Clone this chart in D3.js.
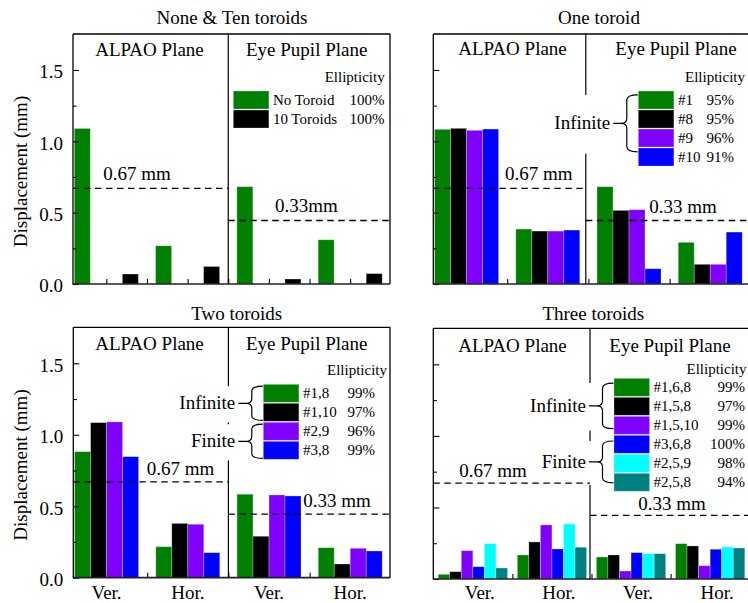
<!DOCTYPE html>
<html>
<head>
<meta charset="utf-8">
<script src="https://cdn.jsdelivr.net/npm/d3@7"></script>
<style>
  html, body { margin: 0; padding: 0; background: #fff; }
  svg { display: block; }
  svg text { font-family: "Liberation Serif", "Times New Roman", serif; fill: #000; }
</style>
</head>
<body>
<svg id="chart" width="748" height="603"></svg>
<script>
// ---- Data ----------------------------------------------------------------
// Groups along every x axis: ALPAO Ver., ALPAO Hor., Eye Ver., Eye Hor.
const groupLabels = ["Ver.", "Hor.", "Ver.", "Hor."];
const planeNames = ["ALPAO Plane", "Eye Pupil Plane"];
const yMajorTicks = [0, 0.5, 1.0, 1.5];
const yMinorTicks = [0.25, 0.75, 1.25];
const yMax = 1.752;
const yTitle = "Displacement (mm)";
const legendHeader = "Ellipticity";

// Tolerance lines
const alpaoLimit = 0.67;
const alpaoLimitText = "0.67 mm";
const eyeLimitLevel = 0.445;
const eyeLimitText = "0.33 mm";

// None & Ten toroids
const noneTenNames = ["No Toroid", "10 Toroids"];
const noneTenEllipticity = ["100%", "100%"];
const noToroid = [1.09, 0.268, 0.682, 0.31];
const tenToroids = [0.07, 0.123, 0.035, 0.073];

// One toroid
const oneNames = ["#1", "#8", "#9", "#10"];
const oneEllipticity = ["95%", "95%", "96%", "91%"];
const one1 = [1.084, 0.385, 0.682, 0.292];
const one8 = [1.091, 0.371, 0.516, 0.138];
const one9 = [1.077, 0.371, 0.521, 0.138];
const one10 = [1.086, 0.378, 0.107, 0.364];

// Two toroids
const twoNames = ["#1,8", "#1,10", "#2,9", "#3,8"];
const twoEllipticity = ["99%", "97%", "96%", "99%"];
const two18 = [0.882, 0.217, 0.584, 0.21];
const two110 = [1.085, 0.38, 0.29, 0.096];
const two29 = [1.09, 0.374, 0.579, 0.206];
const two38 = [0.847, 0.175, 0.572, 0.187];

// Three toroids
const threeNames = ["#1,6,8", "#1,5,8", "#1,5,10", "#3,6,8", "#2,5,9", "#2,5,8"];
const threeEllipticity = ["99%", "97%", "99%", "100%", "98%", "94%"];
const three168 = [0.033, 0.168, 0.154, 0.247];
const three158 = [0.051, 0.259, 0.168, 0.231];
const three1510 = [0.198, 0.378, 0.056, 0.093];
const three368 = [0.086, 0.21, 0.184, 0.208];
const three259 = [0.247, 0.385, 0.177, 0.224];
const three258 = [0.077, 0.222, 0.177, 0.217];

// ---- Styles --------------------------------------------------------------
const GREEN = "#008000", BLACK = "#000000", VIOLET = "#8000ff",
      BLUE = "#0000ff", CYAN = "#00ffff", TEAL = "#008080";
const SERIF = '"Liberation Serif", "Times New Roman", serif';
const AXIS_FONT = 19, LEGEND_FONT = 15;

// ---- Panels --------------------------------------------------------------
const panels = [
  {
    title: "None & Ten toroids", titleX: 232, titleY: 24,
    left: 73, right: 390, top: 34, bottom: 284,
    xDomain: [0.59, 4.49], slots: 4, slotW: 0.197, divider: 2.5,
    showYLabels: true, showXLabels: false, rightBorder: true,
    series: [
      { name: noneTenNames[0], ell: noneTenEllipticity[0], values: noToroid, color: GREEN, slot: 0 },
      { name: noneTenNames[1], ell: noneTenEllipticity[1], values: tenToroids, color: BLACK, slot: 3 }
    ],
    planeX: [149.5, 306.7], planeY: 55.5,
    limitLabels: [{ x: 103.3, y: 180, text: alpaoLimitText }, { x: 275, y: 212.3, text: "0.33mm" }],
    legend: { ellX: 384.7, ellY: 81.7, swX: 233.3, rowTop: 91, pctX: 384.5, groups: [] }
  },
  {
    title: "One toroid", titleX: 599, titleY: 24,
    left: 433.3, right: 750, top: 34, bottom: 284,
    xDomain: [0.59, 4.49], slots: 4, slotW: 0.197, divider: 2.468,
    showYLabels: false, showXLabels: false, rightBorder: false,
    series: [
      { name: oneNames[0], ell: oneEllipticity[0], values: one1, color: GREEN, slot: 0 },
      { name: oneNames[1], ell: oneEllipticity[1], values: one8, color: BLACK, slot: 1 },
      { name: oneNames[2], ell: oneEllipticity[2], values: one9, color: VIOLET, slot: 2 },
      { name: oneNames[3], ell: oneEllipticity[3], values: one10, color: BLUE, slot: 3 }
    ],
    planeX: [512.5, 676], planeY: 55,
    limitLabels: [{ x: 505, y: 180, text: alpaoLimitText }, { x: 649.3, y: 213.3, text: eyeLimitText }],
    legend: { ellX: 745, ellY: 81.7, swX: 638.3, rowTop: 91, pctX: 734,
              groups: [{ name: "Infinite", from: 0.2, to: 3.2 }] }
  },
  {
    title: "Two toroids", titleX: 236.7, titleY: 320,
    left: 73.3, right: 390, top: 327.3, bottom: 577.7,
    xDomain: [0.59, 4.49], slots: 4, slotW: 0.197, divider: 2.5,
    showYLabels: true, showXLabels: true, xLabelShift: 0, rightBorder: true,
    series: [
      { name: twoNames[0], ell: twoEllipticity[0], values: two18, color: GREEN, slot: 0 },
      { name: twoNames[1], ell: twoEllipticity[1], values: two110, color: BLACK, slot: 1 },
      { name: twoNames[2], ell: twoEllipticity[2], values: two29, color: VIOLET, slot: 2 },
      { name: twoNames[3], ell: twoEllipticity[3], values: two38, color: BLUE, slot: 3 }
    ],
    planeX: [149.5, 306.7], planeY: 350,
    limitLabels: [{ x: 146.7, y: 475, text: alpaoLimitText }, { x: 303.3, y: 507.3, text: eyeLimitText }],
    legend: { ellX: 387, ellY: 375, swX: 263.3, rowTop: 384.3, pctX: 375,
              groups: [{ name: "Infinite", from: 0.1, to: 1.9 }, { name: "Finite", from: 2.1, to: 3.9 }] }
  },
  {
    title: "Three toroids", titleX: 593.3, titleY: 320,
    left: 433.3, right: 749.7, top: 328.3, bottom: 579,
    xDomain: [0.5, 4.5], slots: 6, slotW: 0.146, divider: 2.481,
    showYLabels: false, showXLabels: true, xLabelShift: 7, rightBorder: false,
    series: [
      { name: threeNames[0], ell: threeEllipticity[0], values: three168, color: GREEN, slot: 0 },
      { name: threeNames[1], ell: threeEllipticity[1], values: three158, color: BLACK, slot: 1 },
      { name: threeNames[2], ell: threeEllipticity[2], values: three1510, color: VIOLET, slot: 2 },
      { name: threeNames[3], ell: threeEllipticity[3], values: three368, color: BLUE, slot: 3 },
      { name: threeNames[4], ell: threeEllipticity[4], values: three259, color: CYAN, slot: 4 },
      { name: threeNames[5], ell: threeEllipticity[5], values: three258, color: TEAL, slot: 5 }
    ],
    planeX: [512.5, 670], planeY: 351.5,
    limitLabels: [{ x: 459.3, y: 476.7, text: alpaoLimitText }, { x: 638.3, y: 510, text: eyeLimitText }],
    legend: { ellX: 746.5, ellY: 374, swX: 614, rowTop: 378.3, pctX: 745,
              groups: [{ name: "Infinite", from: 0.25, to: 2.65 }, { name: "Finite", from: 3.3, to: 5.5 }] }
  }
];

const svg = d3.select("#chart");

function addText(parent, x, y, str, size, anchor) {
  return parent.append("text")
    .attr("x", x).attr("y", y)
    .attr("text-anchor", anchor || "start")
    .style("font-family", SERIF)
    .style("font-size", size + "px")
    .text(str);
}

function drawPanel(p) {
  const g = svg.append("g");
  const x = d3.scaleLinear().domain(p.xDomain).range([p.left, p.right]);
  const y = d3.scaleLinear().domain([0, yMax]).range([p.bottom, p.top]);
  const groupIdx = d3.range(groupLabels.length);
  const slotX = (i, k) => x(i + 1 - p.slots * p.slotW / 2 + k * p.slotW);

  // Inward x ticks at group centres and between groups (under the bars)
  const xTicks = d3.range(1, groupLabels.length + 0.01, 0.5);
  const xAxis = g.append("g")
    .attr("transform", `translate(0,${p.bottom})`)
    .call(d3.axisBottom(x).tickValues(xTicks).tickSize(-5).tickSizeOuter(0).tickFormat(""));
  xAxis.select(".domain").remove();
  xAxis.selectAll(".tick line").attr("stroke", "#000").attr("stroke-width", 1.1);

  // Bars
  p.series.forEach(s => {
    g.append("g").selectAll("rect")
      .data(groupIdx)
      .join("rect")
      .attr("x", i => slotX(i, s.slot))
      .attr("width", i => slotX(i, s.slot + 1) - slotX(i, s.slot))
      .attr("y", i => y(s.values[i]))
      .attr("height", i => y(0) - y(s.values[i]))
      .attr("fill", s.color)
      .attr("stroke", "rgba(255,255,255,0.35)")
      .attr("stroke-width", 0.8);
  });

  // Y axis: major ticks (labelled on the left column) and minor ticks
  const yAxis = g.append("g")
    .attr("transform", `translate(${p.left},0)`)
    .call(d3.axisLeft(y).tickValues(yMajorTicks).tickSize(-6).tickPadding(10)
      .tickFormat(p.showYLabels ? d3.format(".1f") : ""));
  yAxis.attr("font-family", null).attr("font-size", null);
  yAxis.select(".domain").remove();
  yAxis.selectAll(".tick line").attr("stroke", "#000").attr("stroke-width", 1.1);
  yAxis.selectAll(".tick text")
    .style("font-family", SERIF).style("font-size", AXIS_FONT + "px")
    .attr("fill", "#000").attr("dy", "0.42em");
  const yMinor = g.append("g")
    .attr("transform", `translate(${p.left},0)`)
    .call(d3.axisLeft(y).tickValues(yMinorTicks).tickSize(-3.5).tickFormat(""));
  yMinor.select(".domain").remove();
  yMinor.selectAll(".tick line").attr("stroke", "#000").attr("stroke-width", 1.1);

  // Frame
  const frame = g.append("g").attr("stroke", "#000").attr("fill", "none");
  frame.append("line").attr("x1", p.left).attr("x2", p.right).attr("y1", p.top).attr("y2", p.top).attr("stroke-width", 1.3);
  frame.append("line").attr("x1", p.left).attr("x2", p.left).attr("y1", p.top).attr("y2", p.bottom).attr("stroke-width", 1.3);
  if (p.rightBorder) {
    frame.append("line").attr("x1", p.right).attr("x2", p.right).attr("y1", p.top).attr("y2", p.bottom).attr("stroke-width", 1.3);
  }
  frame.append("line").attr("x1", p.left - 0.6).attr("x2", p.right).attr("y1", p.bottom).attr("y2", p.bottom)
    .attr("stroke", "#222").attr("stroke-width", 1.7);
  // Plane divider
  frame.append("line").attr("x1", x(p.divider)).attr("x2", x(p.divider))
    .attr("y1", p.top).attr("y2", p.bottom).attr("stroke-width", 1.2);

  // Legend
  const L = p.legend;
  const pitch = 19, swW = 35.6, swH = 18;
  const legBg = g.append("g");
  const leg = g.append("g");
  addText(leg, L.ellX, L.ellY, legendHeader, LEGEND_FONT, "end");
  p.series.forEach((s, i) => {
    const top = L.rowTop + i * pitch;
    leg.append("rect").attr("x", L.swX).attr("y", top).attr("width", swW).attr("height", swH)
      .attr("fill", s.color).attr("stroke", "rgba(255,255,255,0.35)").attr("stroke-width", 0.8);
    addText(leg, L.swX + swW + 4, top + 14, s.name, LEGEND_FONT);
    addText(leg, L.pctX, top + 14, s.ell, LEGEND_FONT, "end");
  });
  L.groups.forEach(gr => {
    const y0 = L.rowTop + gr.from * pitch, y1 = L.rowTop + gr.to * pitch, ym = (y0 + y1) / 2;
    const xTip = L.swX - 0.5, xV = L.swX - 11.5, xMid = L.swX - 17, r = 5;
    const label = addText(leg, L.swX - 28, ym + 6, gr.name, AXIS_FONT, "end");
    const bb = label.node().getBBox();
    legBg.append("rect").attr("x", bb.x - 2).attr("y", y0).attr("width", L.swX - bb.x + 2)
      .attr("height", y1 - y0 + 2).attr("fill", "#fff");
    leg.append("path")
      .attr("d", `M${xTip},${y0} Q${xV},${y0} ${xV},${y0 + r} L${xV},${ym - r} Q${xV},${ym} ${xMid},${ym}` +
                 ` Q${xV},${ym} ${xV},${ym + r} L${xV},${y1 - r} Q${xV},${y1} ${xTip},${y1}` +
                 ` M${L.swX - 25},${ym} L${xMid},${ym}`)
      .attr("fill", "none").attr("stroke", "#000").attr("stroke-width", 1.2);
  });

  // Tolerance lines (dashed), one per plane
  const dash = g.append("g").attr("stroke", "#000").attr("stroke-width", 1.3).attr("stroke-dasharray", "6.5,4.5");
  dash.append("line").attr("x1", p.left).attr("x2", x(p.divider))
    .attr("y1", y(alpaoLimit)).attr("y2", y(alpaoLimit));
  dash.append("line").attr("x1", x(p.divider)).attr("x2", p.right)
    .attr("y1", y(eyeLimitLevel)).attr("y2", y(eyeLimitLevel));
  p.limitLabels.forEach(l => addText(g, l.x, l.y, l.text, AXIS_FONT));

  // Plane names
  planeNames.forEach((nm, k) => addText(g, p.planeX[k], p.planeY, nm, AXIS_FONT, "middle"));

  // Panel title
  addText(g, p.titleX, p.titleY, p.title, AXIS_FONT, "middle");

  // Y title
  if (p.showYLabels) {
    const cy = (p.top + p.bottom) / 2 + 12.5;
    addText(g, 0, 0, yTitle, AXIS_FONT, "middle")
      .attr("transform", `translate(27,${cy}) rotate(-90)`);
  }

  // Category labels
  if (p.showXLabels) {
    groupLabels.forEach((d, i) => addText(g, x(i + 1) + p.xLabelShift, 599, d, AXIS_FONT, "middle"));
  }
}

panels.forEach(drawPanel);
</script>
</body>
</html>
